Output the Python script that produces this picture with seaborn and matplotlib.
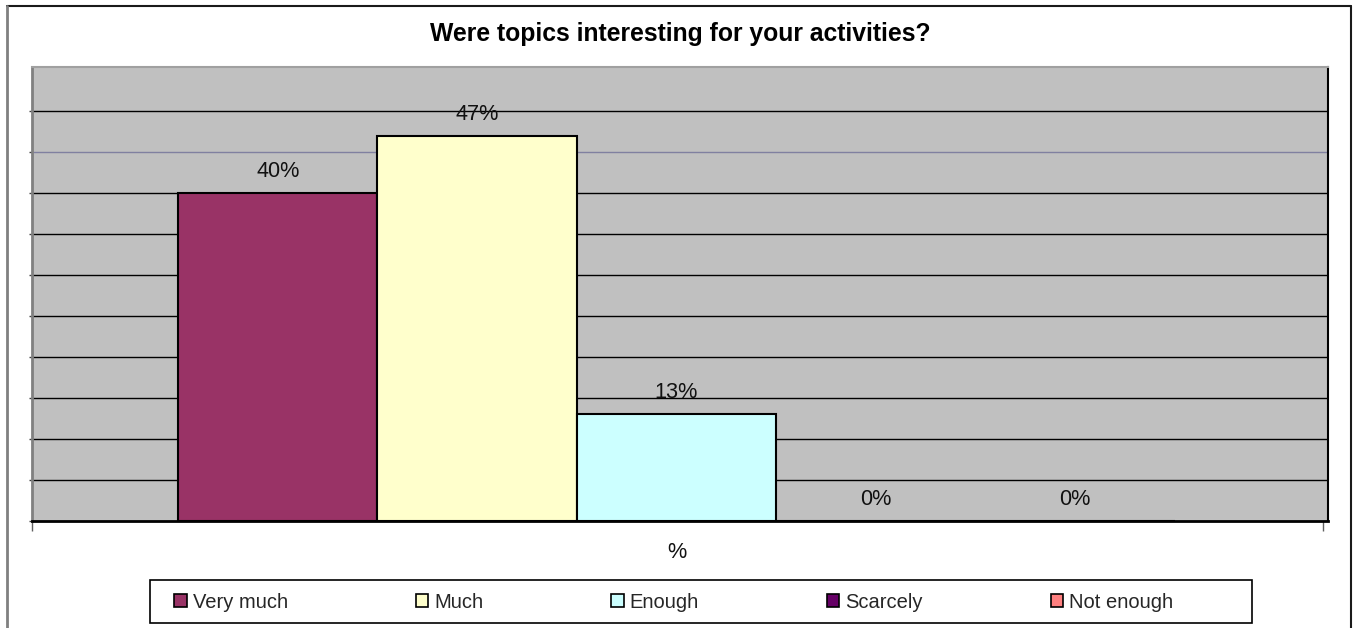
import matplotlib
matplotlib.use("Agg")
import matplotlib.pyplot as plt
from matplotlib.patches import Patch, Rectangle
from matplotlib.lines import Line2D
import pandas as pd
import seaborn as sns

# Survey answers and their share of respondents (%)
answers = ["Very much", "Much", "Enough", "Scarcely", "Not enough"]
shares = [40, 47, 13, 0, 0]
value_labels = ["40%", "47%", "13%", "0%", "0%"]
colors = ["#993366", "#FFFFCC", "#CCFFFF", "#660066", "#FF8080"]
title = "Were topics interesting for your activities?"
axis_label = "%"

sns.set_theme(style="white")
plt.rcParams["font.family"] = ["Liberation Sans", "DejaVu Sans"]

W, H = 1355, 628
fig = plt.figure(figsize=(W / 100, H / 100), dpi=100)
fig.patch.set_facecolor("white")

# plot area in pixels: x 32..1328, y 67..521
ax = fig.add_axes([32 / W, 1 - 521 / H, 1296 / W, 454 / H])
ax.set_facecolor("#C0C0C0")

df = pd.DataFrame({"answer": answers, "share": shares})
sns.barplot(data=df, x="answer", y="share", hue="answer", order=answers,
            hue_order=answers, palette=dict(zip(answers, colors)),
            saturation=1, width=1.0, edgecolor="black", linewidth=1.5,
            legend=False, ax=ax, zorder=3)

ax.set_xlim(-1.233, 5.27)
ax.set_ylim(0, 55.4)

# horizontal gridlines every 5%
ax.set_yticks(range(0, 55, 5))
ax.set_yticklabels([])
for yv in range(5, 55, 5):
    ax.axhline(yv, color="#8080A0" if yv == 45 else "black", lw=1.0, zorder=1)

ax.set_xticks([-1.233, 5.245])
ax.set_xticklabels(["", ""])
ax.tick_params(axis="x", direction="out", length=7, width=1, color="#606060", bottom=True)
ax.tick_params(axis="y", direction="out", length=2, width=1, color="#404040", left=True)

for side, col, lw in [("left", "#808080", 2.0), ("top", "#A0A0A0", 1.5),
                      ("right", "black", 1.5), ("bottom", "black", 2.0)]:
    ax.spines[side].set_visible(True)
    ax.spines[side].set_color(col)
    ax.spines[side].set_linewidth(lw)

for container, lab in zip(ax.containers, value_labels):
    ax.bar_label(container, labels=[lab], padding=8, fontsize=15.6, color="#111111")

ax.set_ylabel("")
ax.set_xlabel(axis_label, fontsize=15.6, color="#111111")
ax.xaxis.set_label_coords((677 - 32) / 1296, (521 - 552) / 454)
ax.xaxis.label.set_va("center")

fig.text(680 / W, 1 - 34 / H, title, ha="center", va="center",
         fontsize=17.8, fontweight="bold", color="black")

# outer chart frame
fig.add_artist(Line2D([7 / W, 1351 / W], [1 - 6 / H, 1 - 6 / H],
                      transform=fig.transFigure, color="#1a1a1a", lw=1.5))
fig.add_artist(Line2D([7 / W, 7 / W], [1 - 6 / H, 0], transform=fig.transFigure,
                      color="#808080", lw=2))
fig.add_artist(Line2D([1351 / W, 1351 / W], [1 - 6 / H, 0], transform=fig.transFigure,
                      color="#1a1a1a", lw=1.5))

# legend box
fig.add_artist(Rectangle((150 / W, 1 - 623 / H), (1252 - 150) / W, 43 / H,
                         transform=fig.transFigure, facecolor="white",
                         edgecolor="black", lw=1.2, zorder=2))
handles = [Patch(facecolor=c, edgecolor="black", linewidth=1.2, label=a)
           for a, c in zip(answers, colors)]
leg = fig.legend(handles=handles, loc="center left", ncol=5,
                 bbox_to_anchor=(168 / W, 1 - 602 / H), fontsize=14.5,
                 frameon=False, handlelength=0.62, handleheight=0.62,
                 handletextpad=0.3, columnspacing=6.35, borderpad=0.3,
                 borderaxespad=0)
leg.set_zorder(3)

fig.savefig("out.png", dpi=100, facecolor="white")
